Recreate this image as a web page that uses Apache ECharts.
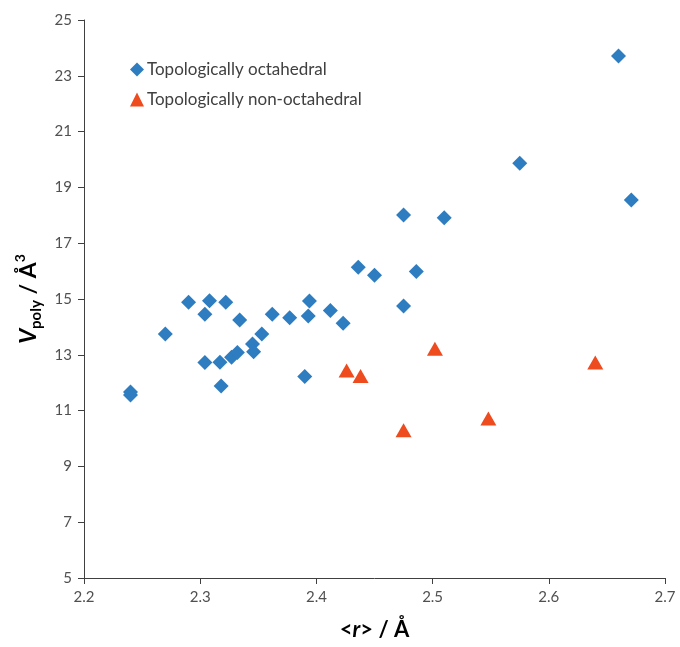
<!DOCTYPE html>
<html>
<head>
<meta charset="utf-8">
<script src="https://cdn.jsdelivr.net/npm/echarts@6/dist/echarts.min.js"></script>
<style>
  html, body { margin: 0; padding: 0; background: #fff; }
  #chart { width: 680px; height: 647px; }
</style>
</head>
<body>
<div id="chart"></div>
<script>
// <r> (Å) and V_poly (Å^3)
const octR = [2.240, 2.240, 2.270, 2.290, 2.308, 2.322, 2.304, 2.334, 2.304, 2.317, 2.318,
  2.327, 2.332, 2.345, 2.346, 2.353, 2.362, 2.377, 2.394, 2.393, 2.412, 2.423, 2.390,
  2.436, 2.450, 2.486, 2.475, 2.475, 2.510, 2.575, 2.660, 2.671]
const octV = [11.67, 11.56, 13.75, 14.88, 14.94, 14.88, 14.45, 14.25, 12.72, 12.73, 11.88,
  12.91, 13.08, 13.39, 13.11, 13.75, 14.45, 14.33, 14.93, 14.39, 14.59, 14.13, 12.22,
  16.14, 15.85, 15.99, 14.75, 18.01, 17.91, 19.87, 23.71, 18.55]
const nonR = [2.426, 2.438, 2.502, 2.475, 2.548, 2.640]
const nonV = [12.44, 12.24, 13.22, 10.30, 10.72, 12.72]
const xTicks = [2.2, 2.3, 2.4, 2.5, 2.6, 2.7]
const yTicks = [5, 7, 9, 11, 13, 15, 17, 19, 21, 23, 25]

const pairs = (xs, ys) => xs.map((x, i) => [x, ys[i]])

const chart = echarts.init(document.getElementById("chart"))

const axisColor = "#404040"
const labelColor = "#505050"

chart.setOption({
  animation: false,
  textStyle: { fontFamily: "Lato" },
  grid: { left: 84, right: 15, top: 20, bottom: 69 },
  legend: {
    orient: "vertical",
    left: 125,
    top: 56,
    itemWidth: 14,
    itemHeight: 14,
    itemGap: 13,
    textStyle: { fontSize: 17, color: "#404040", fontFamily: "Lato", padding: [0, 0, 0, -2] },
    data: [
      { name: "Topologically octahedral", icon: "diamond" },
      { name: "Topologically non-octahedral", icon: "triangle" },
    ],
  },
  xAxis: {
    type: "value",
    min: 2.2,
    max: 2.7,
    interval: 0.1,
    name: "{a|<}{r|r}{a|> / Å}",
    nameLocation: "middle",
    nameGap: 41,
    nameTextStyle: {
      rich: {
        a: { fontSize: 22, fontWeight: "bold", color: "#000", fontFamily: "Lato" },
        r: { fontSize: 22, fontWeight: "bold", fontStyle: "italic", color: "#000", fontFamily: "Lato" },
      },
    },
    axisLine: { lineStyle: { color: axisColor, width: 1 } },
    axisTick: { show: true, inside: false, length: 6, lineStyle: { color: axisColor } },
    axisLabel: {
      color: labelColor,
      fontSize: 15,
      margin: 12,
      formatter: (v) => (xTicks.includes(+v.toFixed(1)) ? v.toFixed(1) : ""),
    },
    splitLine: { show: false },
  },
  yAxis: {
    type: "value",
    min: 5,
    max: 25,
    interval: 2,
    name: "{v|V}{s|poly}{n| / Å}{p|3}",
    nameLocation: "middle",
    nameGap: 40,
    nameRotate: 90,
    nameTextStyle: {
      rich: {
        v: { fontSize: 23, fontWeight: "bold", fontStyle: "italic", color: "#000", fontFamily: "Lato", lineHeight: 30, verticalAlign: "middle" },
        s: { fontSize: 15, fontWeight: "bold", color: "#000", fontFamily: "Lato", lineHeight: 30, verticalAlign: "bottom", padding: [8, 0, 0, 0] },
        n: { fontSize: 23, fontWeight: "bold", color: "#000", fontFamily: "Lato", lineHeight: 30, verticalAlign: "middle" },
        p: { fontSize: 14, fontWeight: "bold", color: "#000", fontFamily: "Lato", lineHeight: 30, verticalAlign: "top", padding: [0, 0, 6, 0] },
      },
    },
    axisLine: { show: true, lineStyle: { color: axisColor, width: 1 } },
    axisTick: { show: true, inside: false, length: 6, lineStyle: { color: axisColor } },
    axisLabel: {
      color: labelColor,
      fontSize: 15,
      margin: 12,
      formatter: (v) => (yTicks.includes(v) ? String(v) : ""),
    },
    splitLine: { show: false },
  },
  series: [
    {
      name: "Topologically octahedral",
      type: "scatter",
      symbol: "diamond",
      symbolSize: 15,
      itemStyle: { color: "#2E7DC0", opacity: 1 },
      data: pairs(octR, octV),
    },
    {
      name: "Topologically non-octahedral",
      type: "scatter",
      symbol: "triangle",
      symbolSize: [16, 14],
      itemStyle: { color: "#EE4B1F", opacity: 1 },
      data: pairs(nonR, nonV),
    },
  ],
})
</script>
</body>
</html>
